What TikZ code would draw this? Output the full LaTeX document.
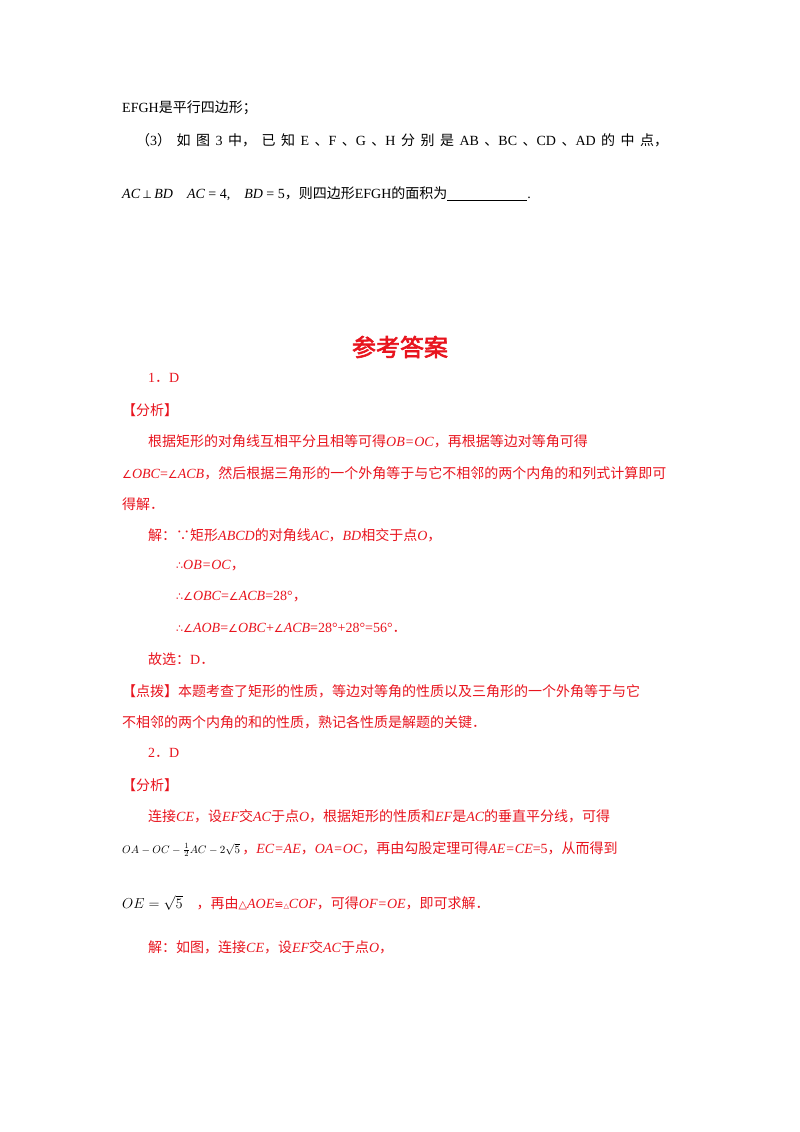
\documentclass[tikz,border=0pt]{standalone}
\usepackage{fontspec}
\setmainfont{Noto Sans CJK SC}
\newfontfamily\lat{Liberation Serif}
\newfontfamily\symf{DejaVu Sans}
\newfontfamily\titlef[FakeBold=2.5]{Noto Sans CJK SC}
\newcommand{\I}[1]{{\lat\itshape #1}}
\newcommand{\R}[1]{{\lat #1}}
\newcommand{\Y}[1]{{\symf\fontsize{11}{13}\selectfont #1}}
\definecolor{ansred}{RGB}{232,20,30}
\begin{document}
\begin{tikzpicture}[x=1pt,y=-1pt,
  txt/.style={anchor=west,inner sep=0pt,font=\fontsize{14}{16}\selectfont},
  red/.style={txt,text=ansred}]
\useasboundingbox (0,0) rectangle (800,1132);
\node[txt] (l1) at (122,108) {\R{EFGH}是平行四边形；};
\node[txt] (l2) at (136,140) {\makebox[532pt][s]{（\R{3}）\hfill 如\hfill 图\hfill \R{3}\hfill 中，\hfill 已\hfill 知\hfill \R{E}\hfill 、\R{F}\hfill 、\R{G}\hfill 、\R{H}\hfill 分\hfill 别\hfill 是\hfill \R{AB}\hfill 、\R{BC}\hfill 、\R{CD}\hfill 、\R{AD}\hfill 的\hfill 中\hfill 点，}};
\node[txt] (l3) at (122,194) {\I{AC}\,\Y{⊥}\,\I{BD}\quad\I{AC}\R{ = 4,}\quad\I{BD}\R{ = 5}，则四边形\R{EFGH}的面积为\underline{\hspace{80pt}}\R{.}};
\node[anchor=center,inner sep=0pt,text=ansred,font=\titlef\fontsize{24}{26}\selectfont] (title) at (400,347) {参考答案};
\node[red] (a1) at (148,378) {\R{1}．\R{D}};
\node[red] (a2) at (122,410) {【分析】};
\node[red] (a3) at (148,441) {根据矩形的对角线互相平分且相等可得\I{OB=OC}，再根据等边对等角可得};
\node[red] (a4) at (122,473) {\Y{∠}\I{OBC}\R{=}\Y{∠}\I{ACB}，然后根据三角形的一个外角等于与它不相邻的两个内角的和列式计算即可};
\node[red] (a5) at (122,504) {得解．};
\node[red] (a6) at (148,535) {解：∵矩形\I{ABCD}的对角线\I{AC}，\I{BD}相交于点\I{O}，};
\node[red] (a7) at (176,566) {\Y{∴}\I{OB=OC}，};
\node[red] (a8) at (176,597) {\Y{∴∠}\I{OBC}\R{=}\Y{∠}\I{ACB}\R{=28°}，};
\node[red] (a9) at (176,628) {\Y{∴∠}\I{AOB}\R{=}\Y{∠}\I{OBC}\R{+}\Y{∠}\I{ACB}\R{=28°+28°=56°}．};
\node[red] (a10) at (148,659) {故选：\R{D}．};
\node[red] (a11) at (122,691) {【点拨】本题考查了矩形的性质，等边对等角的性质以及三角形的一个外角等于与它};
\node[red] (a12) at (122,722) {不相邻的两个内角的和的性质，熟记各性质是解题的关键．};
\node[red] (b1) at (148,753) {\R{2}．\R{D}};
\node[red] (b2) at (122,785) {【分析】};
\node[red] (b3) at (148,816) {连接\I{CE}，设\I{EF}交\I{AC}于点\I{O}，根据矩形的性质和\I{EF}是\I{AC}的垂直平分线，可得};
\node[txt] (b4) at (122,849) {{\fontsize{11}{13}\selectfont$OA-OC-\frac{1}{2}AC-2\sqrt{5}$}\,{\color{ansred}，\I{EC=AE}，\I{OA=OC}，再由勾股定理可得\I{AE=CE}\R{=5}，从而得到}};
\node[txt] (b5) at (122,903) {$OE=\sqrt{5}$\quad{\color{ansred}，再由\Y{△}\I{AOE}\Y{≌}{\symf\fontsize{7}{8}\selectfont △}\I{COF}，可得\I{OF=OE}，即可求解．}};
\node[red] (b6) at (148,947) {解：如图，连接\I{CE}，设\I{EF}交\I{AC}于点\I{O}，};
\end{tikzpicture}
\end{document}
